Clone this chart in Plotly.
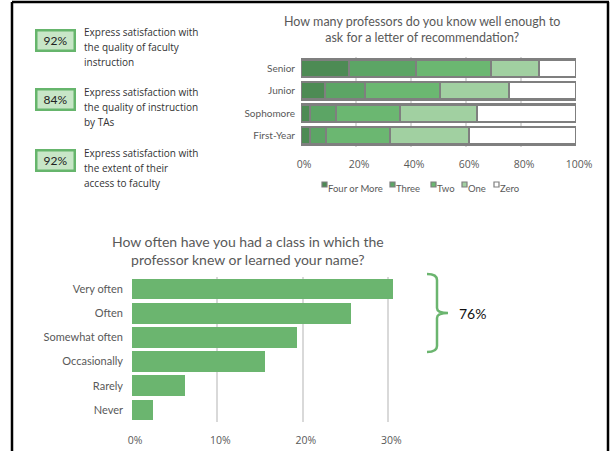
import plotly.graph_objects as go

W, H = 611, 451


def X(px):
    return px / W


def Y(py):
    return 1 - py / H


# ---- recommendation letters (stacked, % of students) ----
classes = ["Senior", "Junior", "Sophomore", "First-Year"]
four_or_more = [17.5, 8.7, 3.3, 3.3]
three = [24.3, 14.6, 9.4, 5.8]
two = [27.2, 27.2, 23.3, 23.3]
one = [17.5, 25.1, 28.0, 28.7]
zero = [13.5, 24.4, 36.0, 38.9]
rec_series = ["Four or More", "Three", "Two", "One", "Zero"]
rec_values = [four_or_more, three, two, one, zero]
rec_colors = ["#4d8b54", "#5ca565", "#6bb771", "#a1d0a1", "#ffffff"]
rec_ticks = [0, 20, 40, 60, 80, 100]

# ---- professor knew your name (% of students) ----
freq = ["Very often", "Often", "Somewhat often", "Occasionally", "Rarely", "Never"]
freq_pct = [30.6, 25.6, 19.3, 15.6, 6.2, 2.4]
freq_ticks = [0, 10, 20, 30]
top_three_total = "76%"

# ---- satisfaction call-outs ----
sat_pct = ["92%", "84%", "92%"]
sat_text = [
    ["Express satisfaction with", "the quality of faculty", "instruction"],
    ["Express satisfaction with", "the quality of instruction", "by TAs"],
    ["Express satisfaction with", "the extent of their", "access to faculty"],
]

GRAY = "#595959"
fig = go.Figure()

for name, vals, col in zip(rec_series, rec_values, rec_colors):
    fig.add_trace(go.Bar(
        y=classes, x=vals, name=name, orientation="h",
        marker=dict(color=col, line=dict(color="#7f7f7f", width=2.5)),
        xaxis="x", yaxis="y", showlegend=False, hoverinfo="x+y+name",
    ))

fig.add_trace(go.Bar(
    y=freq, x=freq_pct, orientation="h",
    marker=dict(color="#6bb56f", line=dict(width=0)),
    xaxis="x2", yaxis="y2", showlegend=False, width=0.86,
))

fig.update_layout(
    width=W, height=H, autosize=False,
    margin=dict(l=0, r=0, t=0, b=0),
    paper_bgcolor="white", plot_bgcolor="white",
    barmode="stack", bargap=0.22,
    font=dict(family="Lato", color=GRAY),
    xaxis=dict(
        domain=[X(301), X(576)], range=[0, 100], automargin=False,
        tickvals=rec_ticks, ticktext=[f"{t}%" for t in rec_ticks],
        showgrid=True, gridcolor="#d9d9d9", gridwidth=1.5,
        zeroline=False, showline=False, ticks="",
        tickfont=dict(family="Open Sans", size=10.5, color=GRAY),
        ticklabelstandoff=9, ticklabelshift=3, anchor="y",
    ),
    yaxis=dict(
        domain=[Y(147), Y(57)], autorange="reversed", automargin=False,
        showgrid=False, zeroline=False, ticks="",
        tickfont=dict(family="Lato", size=10, color=GRAY),
        ticklabelstandoff=5, anchor="x",
    ),
    xaxis2=dict(
        domain=[X(132), X(431)], range=[0, 35], automargin=False,
        tickvals=freq_ticks, ticktext=[f"{t}%" for t in freq_ticks],
        showgrid=True, gridcolor="#d9d9d9", gridwidth=2,
        zeroline=False, showline=False, ticks="",
        tickfont=dict(family="Open Sans", size=10.5, color=GRAY),
        ticklabelstandoff=10, ticklabelshift=3, anchor="y2",
    ),
    yaxis2=dict(
        domain=[Y(422), Y(277)], autorange="reversed", automargin=False,
        showgrid=False, zeroline=False, ticks="",
        tickfont=dict(family="Lato", size=11, color=GRAY),
        ticklabelstandoff=8, anchor="x2",
    ),
)

ann = []
shapes = []

# titles
ann.append(dict(
    x=X(422), y=Y(29), xref="paper", yref="paper", showarrow=False,
    text="How many professors do you know well enough to<br>ask for a letter of recommendation?",
    font=dict(family="Lato", size=12.5, color=GRAY), xanchor="center", yanchor="middle",
))
ann.append(dict(
    x=X(248), y=Y(250), xref="paper", yref="paper", showarrow=False,
    text="How often have you had a class in which the<br>professor knew or learned your name?",
    font=dict(family="Lato", size=14, color=GRAY), xanchor="center", yanchor="middle",
))

# custom legend for the stacked chart
legend_x = [322, 390, 431, 462, 494]
for name, col, lx in zip(rec_series, rec_colors, legend_x):
    shapes.append(dict(
        type="rect", xref="paper", yref="paper",
        x0=X(lx), x1=X(lx + 5), y0=Y(187), y1=Y(182),
        fillcolor=col, line=dict(color="#7f7f7f", width=1.2),
    ))
    ann.append(dict(
        x=X(lx + 4), y=Y(188), xref="paper", yref="paper", showarrow=False,
        text=name, font=dict(family="Lato", size=9.5, color=GRAY),
        xanchor="left", yanchor="middle",
    ))

# satisfaction boxes and captions
box_y = [40, 100, 161]
for pct, lines, by in zip(sat_pct, sat_text, box_y):
    ann.append(dict(
        x=X(55), y=Y(by), xref="paper", yref="paper", showarrow=False,
        text=pct, font=dict(family="Lato", size=12, color="#222222"),
        width=34, height=16, bgcolor="#c8e6c7",
        bordercolor="#66b56c", borderwidth=2.5, borderpad=1,
        xanchor="center", yanchor="middle",
    ))
    for i, line in enumerate(lines):
        ann.append(dict(
            x=X(82), y=Y(by - 8 + i * 15), xref="paper", yref="paper",
            showarrow=False, text=line,
            font=dict(family="Open Sans", size=10, color="#333333"),
            xanchor="left", yanchor="middle",
        ))

# brace grouping the top three answers
brace = (
    f"M {X(427)} {Y(274)} Q {X(437)} {Y(274)} {X(437)} {Y(280)} "
    f"L {X(437)} {Y(308)} Q {X(437)} {Y(313)} {X(448)} {Y(313)} "
    f"Q {X(437)} {Y(313)} {X(437)} {Y(318)} "
    f"L {X(437)} {Y(346)} Q {X(437)} {Y(352)} {X(427)} {Y(352)}"
)
shapes.append(dict(type="path", xref="paper", yref="paper", path=brace,
                   line=dict(color="#6bb56f", width=2.5)))
ann.append(dict(
    x=X(457), y=Y(313), xref="paper", yref="paper", showarrow=False,
    text=top_three_total, font=dict(family="Lato", size=14, color="#111111"),
    xanchor="left", yanchor="middle",
))

# page frame
frame = dict(color="black", width=2.5)
shapes.append(dict(type="line", xref="paper", yref="paper",
                   x0=X(12), x1=X(12), y0=0, y1=Y(2), line=frame))
shapes.append(dict(type="line", xref="paper", yref="paper",
                   x0=X(12), x1=X(609), y0=Y(2), y1=Y(2), line=frame))
shapes.append(dict(type="line", xref="paper", yref="paper",
                   x0=X(608), x1=X(608), y0=0, y1=Y(2), line=frame))

fig.update_layout(annotations=ann, shapes=shapes)
fig.write_html("out.html", config={"responsive": False})
